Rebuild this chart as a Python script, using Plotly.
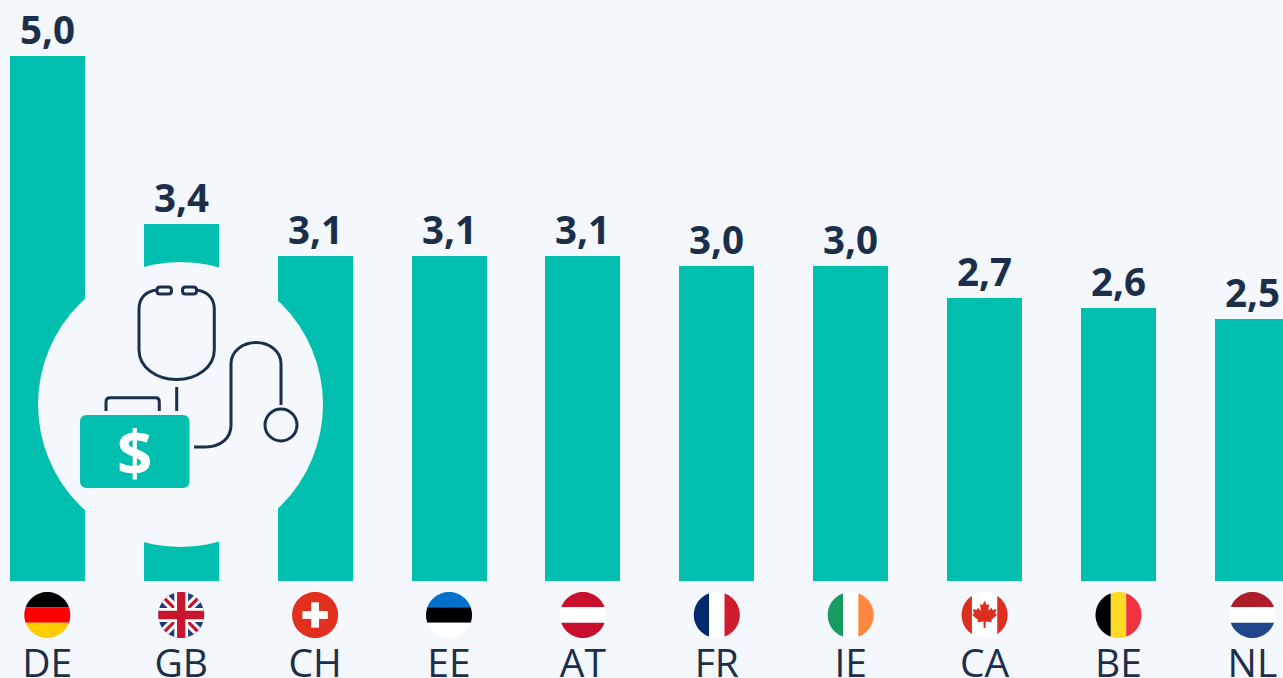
import numpy as np
import plotly.graph_objects as go

W, H = 1283, 678
countries = ["DE", "GB", "CH", "EE", "AT", "FR", "IE", "CA", "BE", "NL"]
values = [5.0, 3.4, 3.1, 3.1, 3.1, 3.0, 3.0, 2.7, 2.6, 2.5]

BG = "#f4f7fb"
TEAL = "#00bfae"
NAVY = "#1b2f4b"
BASE, UNIT = 581, 105
X0, STEP = 47.3, 133.9
FLAG_Y, FLAG_R = 615, 23

# paper coordinates are measured on the plot area, which ends at the bar baseline
def px(x): return x / W
def py(y): return 1 - y / BASE

def path(points, close=True):
    s = "M" + " L".join(f"{px(x):.5f},{py(y):.5f}" for x, y in points)
    return s + (" Z" if close else "")

def circle_poly(cx, cy, r, n=72):
    t = np.linspace(0, 2 * np.pi, n, endpoint=False)
    return [(cx + r * np.cos(a), cy + r * np.sin(a)) for a in t]

def clip(poly, clipper):
    # Sutherland-Hodgman against a convex polygon
    out = list(poly)
    for i in range(len(clipper)):
        a, b = clipper[i], clipper[(i + 1) % len(clipper)]
        side = lambda p: (b[0]-a[0])*(p[1]-a[1]) - (b[1]-a[1])*(p[0]-a[0])
        inp, out = out, []
        for j in range(len(inp)):
            p, q = inp[j], inp[(j + 1) % len(inp)]
            sp, sq = side(p), side(q)
            if sp >= 0:
                out.append(p)
            if sp * sq < 0:
                k = sp / (sp - sq)
                out.append((p[0] + k*(q[0]-p[0]), p[1] + k*(q[1]-p[1])))
        if not out:
            return []
    return out

def rect(x0, y0, x1, y1):
    return [(x0, y0), (x1, y0), (x1, y1), (x0, y1)]

def hstripes(cols):
    n = len(cols); h = 2 / n
    return [(c, rect(-1, -1 + i*h, 1, -1 + (i+1)*h)) for i, c in enumerate(cols)]

def vstripes(cols):
    n = len(cols); w = 2 / n
    return [(c, rect(-1 + i*w, -1, -1 + (i+1)*w, 1)) for i, c in enumerate(cols)]

def band(x0, y0, x1, y1, w):
    d = np.array([x1-x0, y1-y0], float); d /= np.hypot(*d)
    n = np.array([-d[1], d[0]]) * w
    return [(x0+n[0], y0+n[1]), (x1+n[0], y1+n[1]), (x1-n[0], y1-n[1]), (x0-n[0], y0-n[1])]

leaf = [(0,-.62),(.1,-.42),(.2,-.48),(.16,-.18),(.3,-.32),(.34,-.22),(.52,-.26),(.46,-.06),(.54,0),
        (.28,.22),(.32,.32),(.05,.28),(.04,.56),(-.04,.56),(-.05,.28),(-.32,.32),(-.28,.22),
        (-.54,0),(-.46,-.06),(-.52,-.26),(-.34,-.22),(-.3,-.32),(-.16,-.18),(-.2,-.48),(-.1,-.42)]

flags = {
    "DE": hstripes(["#000000", "#ff0000", "#ffce00"]),
    "GB": [("#1f3a7d", rect(-1,-1,1,1)),
           ("#ffffff", band(-1,-1,1,1,.2)), ("#ffffff", band(-1,1,1,-1,.2)),
           ("#c8102e", band(-1,-1,1,1,.07)), ("#c8102e", band(-1,1,1,-1,.07)),
           ("#ffffff", rect(-.3,-1,.3,1)), ("#ffffff", rect(-1,-.3,1,.3)),
           ("#c8162e", rect(-.18,-1,.18,1)), ("#c8162e", rect(-1,-.18,1,.18))],
    "CH": [("#e1301e", rect(-1,-1,1,1)), ("#ffffff", rect(-.17,-.55,.17,.55)), ("#ffffff", rect(-.55,-.17,.55,.17))],
    "EE": hstripes(["#0072ce", "#000000", "#ffffff"]),
    "AT": hstripes(["#c8102e", "#ffffff", "#c8102e"]),
    "FR": vstripes(["#002a6c", "#ffffff", "#d01c2f"]),
    "IE": vstripes(["#169b62", "#ffffff", "#ff883e"]),
    "CA": [("#ffffff", rect(-1,-1,1,1)), ("#dc2f1f", rect(-1,-1,-.55,1)), ("#dc2f1f", rect(.55,-1,1,1)), ("#dc2f1f", leaf)],
    "BE": vstripes(["#000000", "#fdda24", "#ef3340"]),
    "NL": hstripes(["#ae1c28", "#ffffff", "#21468b"]),
}

shapes = []

# round icon disc that sits over the bars
def ell(cx, cy, r, **kw):
    return dict(type="circle", xref="paper", yref="paper", x0=px(cx-r), x1=px(cx+r),
                y0=py(cy+r), y1=py(cy-r), layer="above", **kw)

shapes.append(ell(180.5, 404.5, 142.5, fillcolor=BG, line=dict(width=0)))

# flags
for i, c in enumerate(countries):
    cx = X0 + STEP * i
    unit = circle_poly(0, 0, 1)
    for col, poly in flags[c]:
        cl = clip(poly, unit)
        if cl:
            shapes.append(dict(type="path", xref="paper", yref="paper", layer="above",
                               path=path([(cx + FLAG_R*x, FLAG_Y + FLAG_R*y) for x, y in cl]),
                               fillcolor=col, line=dict(width=0)))

# stethoscope icon
LW = 3
def stroke(d):
    return dict(type="path", xref="paper", yref="paper", layer="above", path=d,
                line=dict(color=NAVY, width=LW), fillcolor="rgba(0,0,0,0)")

def curve(cmds):
    out = []
    for cmd in cmds:
        op, pts = cmd[0], cmd[1:]
        out.append(op + " ".join(f"{px(x):.5f},{py(y):.5f}" for x, y in pts))
    return " ".join(out)

def rrect(x0, y0, x1, y1, r):
    return curve([("M",(x0+r,y0)),("L",(x1-r,y0)),("Q",(x1,y0),(x1,y0+r)),("L",(x1,y1-r)),
                  ("Q",(x1,y1),(x1-r,y1)),("L",(x0+r,y1)),("Q",(x0,y1),(x0,y1-r)),("L",(x0,y0+r)),
                  ("Q",(x0,y0),(x0+r,y0)),("Z",)])

shapes.append(stroke(curve([("M",(157,290)),("C",(146,291),(139,298),(139,309)),("L",(139,350)),
                            ("C",(139,367),(156,379.5),(176.7,379.5)),("C",(197,379.5),(214.3,367),(214.3,350)),
                            ("L",(214.3,309)),("C",(214.3,298),(207,291),(196,290))])))
for x0, x1 in [(157, 171.5), (182.5, 196.5)]:
    shapes.append(dict(type="path", xref="paper", yref="paper", layer="above", path=rrect(x0, 287, x1, 294, 3),
                       line=dict(color=NAVY, width=LW), fillcolor=BG))
shapes.append(stroke(curve([("M",(176.7,387)),("L",(176.7,411))])))
shapes.append(stroke(curve([("M",(106,411)),("L",(106,402)),("C",(106,399),(107,397.8),(110,397.8)),
                            ("L",(156,397.8)),("C",(158,397.8),(159.3,399),(159.3,402)),("L",(159.3,411))])))
shapes.append(stroke(curve([("M",(194,447)),("L",(205,447)),("C",(221,447),(231,438),(231,425)),("L",(231,364)),
                            ("C",(231,351),(243,342.5),(256,342.5)),("C",(269,342.5),(281,351),(281,364)),("L",(281,405))])))
shapes.append(ell(281, 425, 16, fillcolor="rgba(0,0,0,0)", line=dict(color=NAVY, width=LW)))
shapes.append(dict(type="path", xref="paper", yref="paper", layer="above", fillcolor=TEAL, line=dict(width=0),
                   path=rrect(80, 415, 189.5, 488, 7)))

xs = list(range(len(countries)))
fig = go.Figure(go.Bar(
    x=xs, y=values, width=75 / STEP,
    marker=dict(color=TEAL, line=dict(width=0)),
    hoverinfo="skip",
))
for x, v in zip(xs, values):
    fig.add_annotation(x=x, y=v, xref="x", yref="y", text=f"{v:.1f}".replace(".", ","), showarrow=False,
                       xanchor="center", yanchor="bottom", yshift=0, borderpad=0,
                       font=dict(family="Open Sans", size=38.5, color=NAVY, weight=700))
fig.add_annotation(text="<b>$</b>", xref="paper", yref="paper", x=px(134), y=py(452), showarrow=False,
                   font=dict(family="Open Sans", size=62, color="#ffffff"), xanchor="center", yanchor="middle")
fig.update_layout(
    width=W, height=H, margin=dict(l=0, r=0, t=0, b=H - BASE), autosize=False,
    paper_bgcolor=BG, plot_bgcolor=BG, separators=",.", showlegend=False, shapes=shapes,
    bargap=0,
    xaxis=dict(range=[-X0 / STEP, (W - X0) / STEP], tickvals=xs, ticktext=countries,
               showgrid=False, zeroline=False, showline=False, ticks="outside", ticklen=48,
               tickcolor="rgba(0,0,0,0)", tickfont=dict(family="Open Sans", size=39, color=NAVY), automargin=False),
    yaxis=dict(range=[0, BASE / UNIT], visible=False),
)
fig.write_html("out.html", config=dict(displayModeBar=False),
               post_script="document.body.style.margin='0';document.body.style.overflow='hidden';")
